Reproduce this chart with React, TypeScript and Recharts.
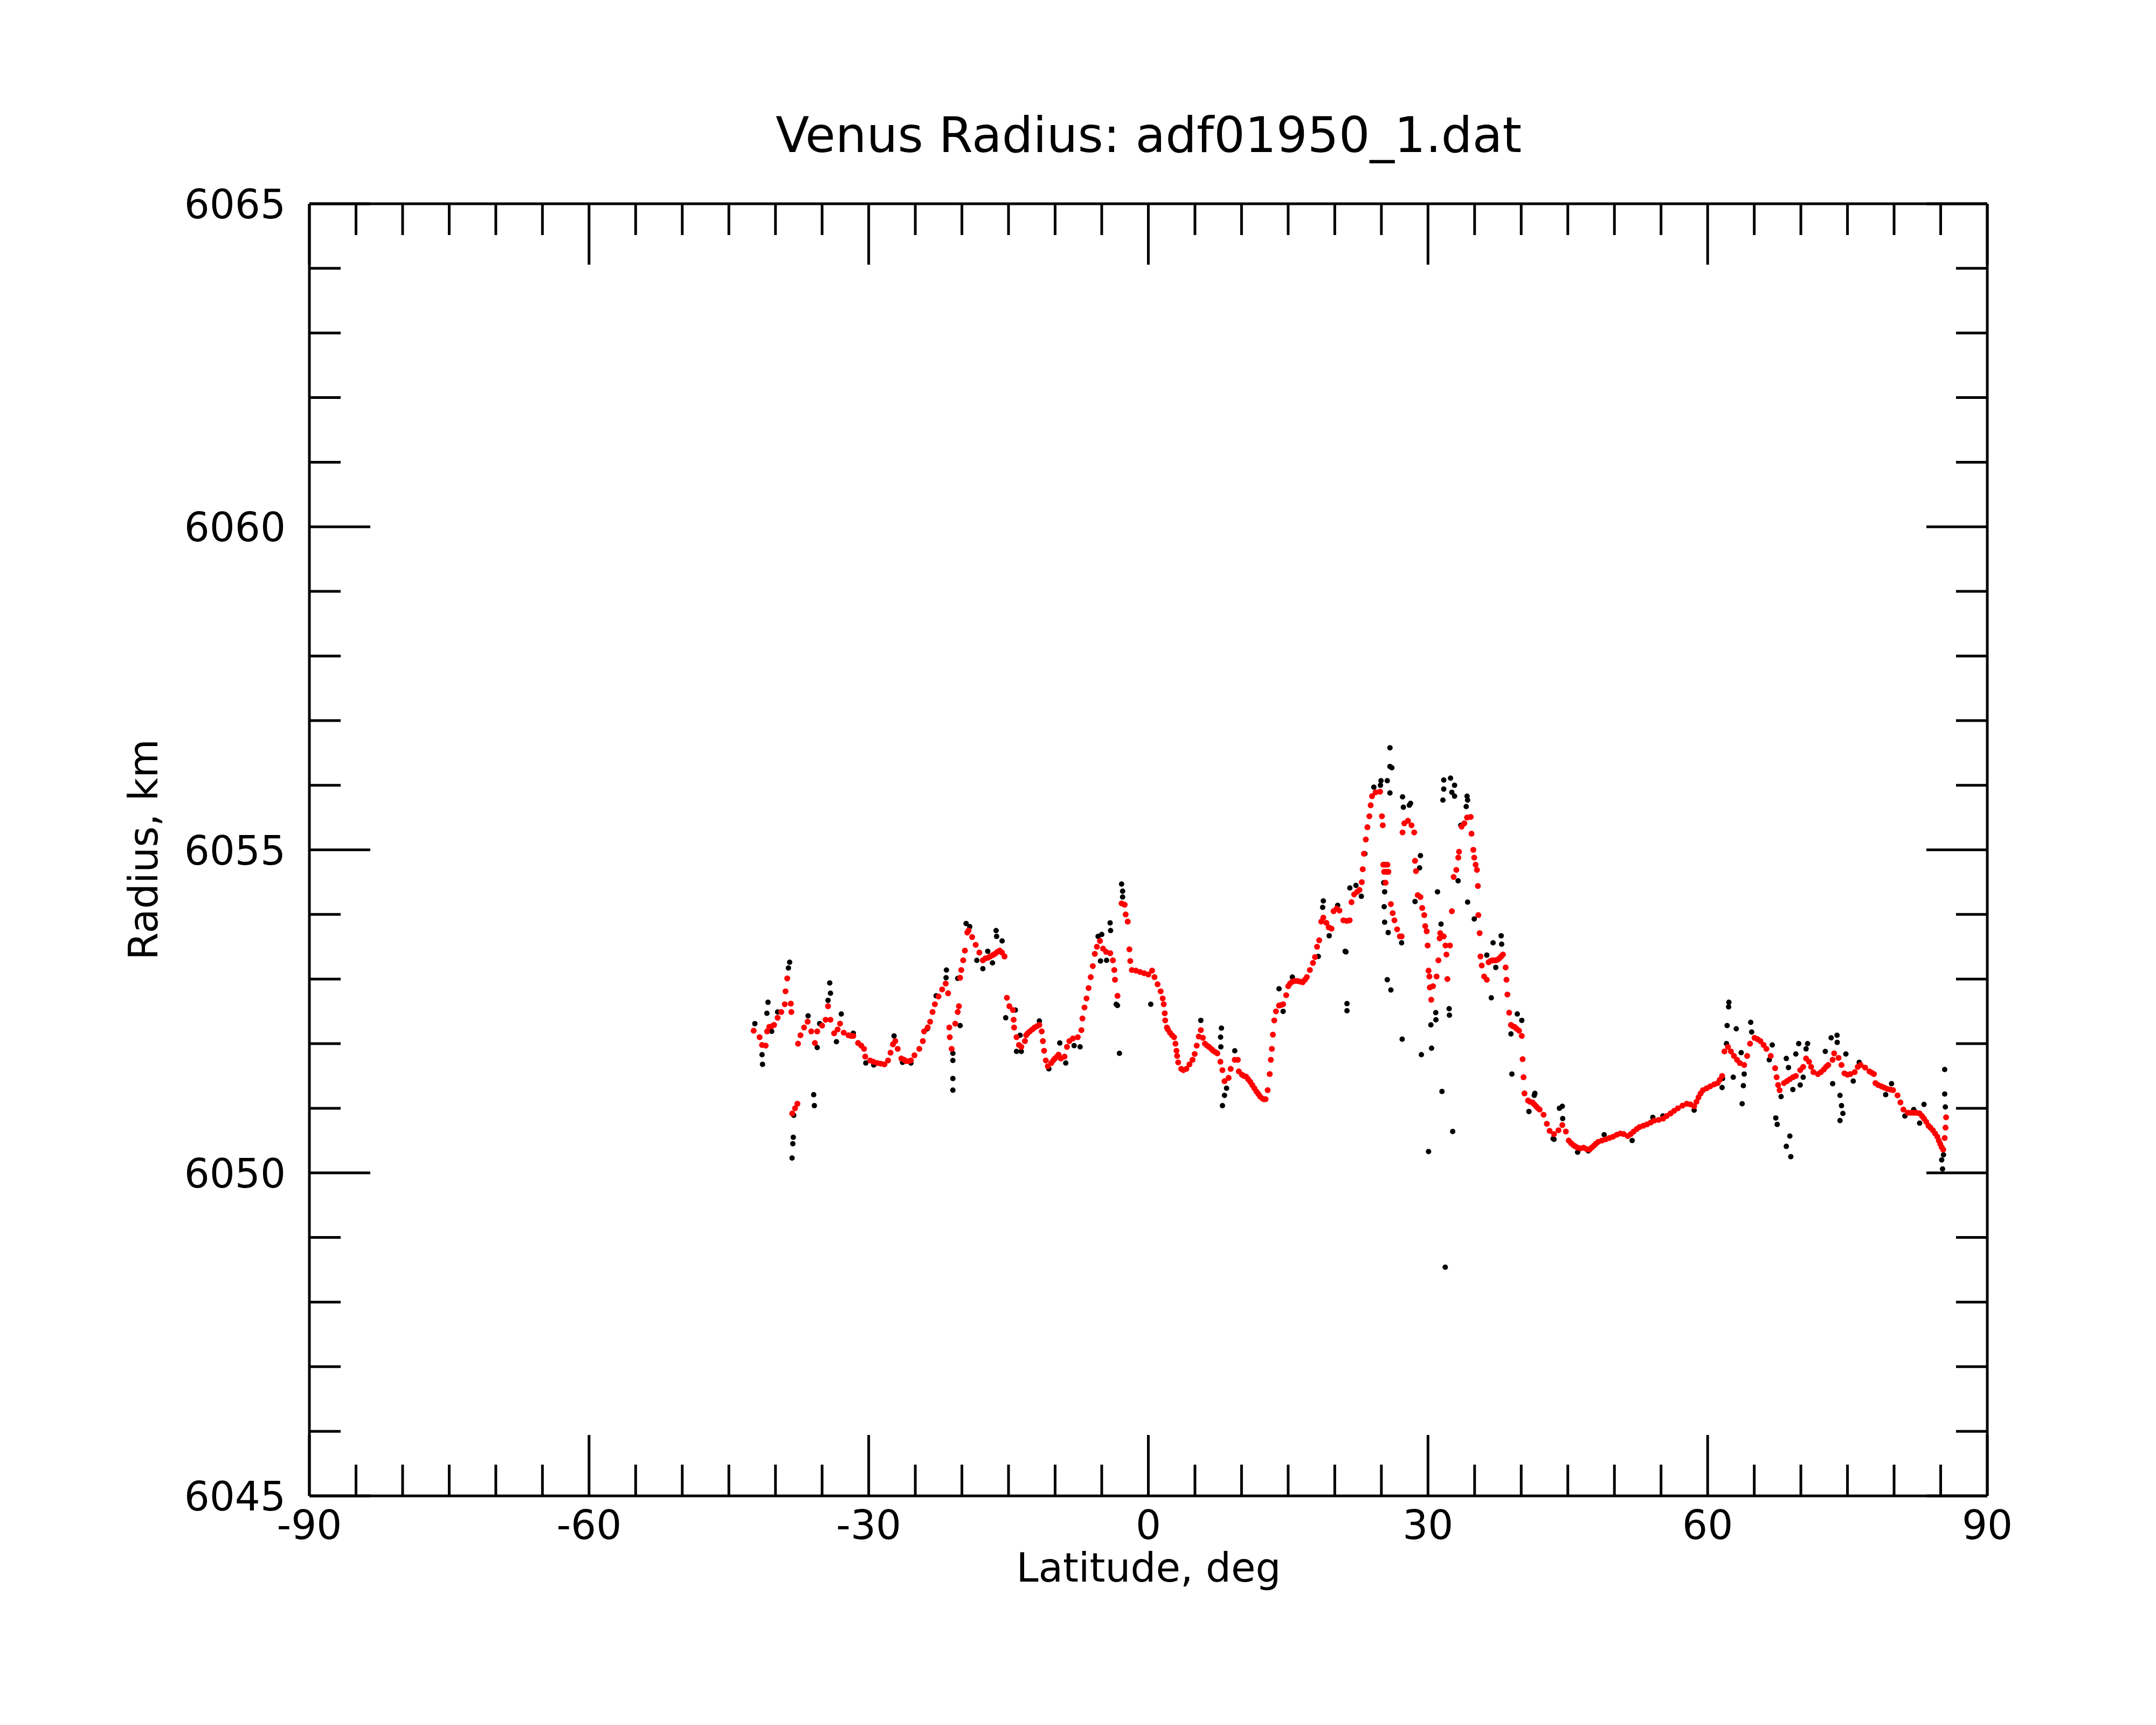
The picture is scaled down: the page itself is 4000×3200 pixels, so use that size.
import React from 'react';
import { ScatterChart, Scatter, XAxis, YAxis } from 'recharts';

// latitude (deg), radius (km)
const redSouth: [number, number][] = [
  [-42.34, 6052.2], [-41.7, 6052.1], [-41.44, 6051.98], [-41.05, 6051.97], [-40.9, 6052.19], [-40.67, 6052.26],
  [-40.4, 6052.27], [-40.15, 6052.29], [-39.77, 6052.4], [-39.38, 6052.49], [-39.0, 6052.61], [-38.92, 6052.81],
  [-38.74, 6053.01], [-38.35, 6052.62], [-38.3, 6052.49], [-38.2, 6050.92], [-37.9, 6051.0], [-37.65, 6051.07],
  [-37.58, 6052.0], [-37.32, 6052.13], [-36.93, 6052.25], [-36.55, 6052.34], [-36.16, 6052.19], [-35.77, 6052.01],
  [-35.52, 6052.19], [-35.0, 6052.28], [-34.62, 6052.37], [-34.36, 6052.58], [-34.1, 6052.37], [-33.71, 6052.16],
  [-33.33, 6052.22], [-33.07, 6052.31], [-32.68, 6052.17], [-32.17, 6052.13], [-31.9, 6052.12], [-31.65, 6052.12],
  [-31.14, 6052.01], [-30.8, 6051.97], [-30.5, 6051.92], [-30.37, 6051.8], [-29.85, 6051.74], [-29.5, 6051.72],
  [-29.08, 6051.7], [-28.7, 6051.69], [-28.31, 6051.68], [-27.92, 6051.74], [-27.66, 6051.86], [-27.4, 6051.99],
  [-27.15, 6052.04], [-26.89, 6051.92], [-26.5, 6051.77], [-26.2, 6051.75], [-25.99, 6051.73], [-25.7, 6051.73],
  [-25.47, 6051.74], [-25.09, 6051.82], [-24.57, 6051.92], [-24.19, 6052.04], [-24.06, 6052.19], [-23.67, 6052.25],
  [-23.41, 6052.34], [-23.15, 6052.49], [-22.9, 6052.61], [-22.51, 6052.73], [-22.12, 6052.84], [-21.74, 6052.93],
  [-21.48, 6052.78], [-21.35, 6052.25], [-21.3, 6052.1], [-21.1, 6051.92], [-20.71, 6052.31], [-20.45, 6052.49],
  [-20.32, 6052.58], [-20.19, 6053.02], [-20.07, 6053.14], [-19.86, 6053.29], [-19.68, 6053.44], [-19.42, 6053.72],
  [-19.29, 6053.75], [-18.9, 6053.65], [-18.52, 6053.53], [-18.13, 6053.41], [-17.75, 6053.29], [-17.49, 6053.32],
  [-17.2, 6053.33], [-16.97, 6053.35], [-16.7, 6053.37], [-16.46, 6053.39], [-16.2, 6053.42], [-15.94, 6053.44],
  [-15.7, 6053.41], [-15.43, 6053.35], [-15.17, 6052.71], [-14.91, 6052.58], [-14.53, 6052.52], [-14.45, 6052.37],
  [-14.4, 6052.25], [-14.14, 6052.1], [-13.88, 6051.98], [-13.63, 6051.95], [-13.24, 6052.04], [-13.11, 6052.13],
  [-12.95, 6052.16], [-12.72, 6052.19], [-12.45, 6052.22], [-12.2, 6052.25], [-11.95, 6052.27], [-11.69, 6052.29],
  [-11.44, 6052.19], [-11.31, 6052.04], [-11.18, 6051.89], [-11.0, 6051.74], [-10.79, 6051.65], [-10.41, 6051.7],
  [-10.2, 6051.74], [-10.02, 6051.77], [-9.8, 6051.8], [-9.63, 6051.83], [-9.38, 6051.77], [-8.99, 6051.8],
  [-8.73, 6051.95], [-8.47, 6052.04], [-8.09, 6052.08], [-7.57, 6052.1],
];

const redEquator: [number, number][] = [
  [-7.18, 6052.21], [-7.07, 6052.39], [-6.85, 6052.56], [-6.63, 6052.7], [-6.41, 6052.86], [-6.18, 6053.03],
  [-5.96, 6053.2], [-5.74, 6053.39], [-5.52, 6053.5], [-5.19, 6053.59], [-4.86, 6053.47], [-4.53, 6053.42],
  [-4.09, 6053.4], [-3.8, 6053.29], [-3.65, 6053.14], [-3.58, 6052.99], [-3.31, 6052.74], [-2.87, 6054.17],
  [-2.54, 6054.15], [-2.43, 6054.0], [-2.21, 6053.89], [-2.03, 6053.46], [-1.94, 6053.28], [-1.77, 6053.14],
  [-1.33, 6053.13], [-0.89, 6053.11], [-0.44, 6053.09], [0, 6053.07], [0.4, 6053.13], [0.66, 6053.03],
  [0.99, 6052.92], [1.32, 6052.81], [1.54, 6052.7], [1.65, 6052.61], [1.76, 6052.47], [1.81, 6052.36],
  [1.99, 6052.25], [2.1, 6052.22], [2.32, 6052.17], [2.55, 6052.13], [2.76, 6052.1], [2.91, 6052.0],
  [3.02, 6051.89], [3.09, 6051.81], [3.2, 6051.71], [3.53, 6051.61], [3.75, 6051.59], [4.08, 6051.61],
  [4.41, 6051.68], [4.74, 6051.75], [4.97, 6051.84], [5.19, 6051.97], [5.41, 6052.11], [5.63, 6052.21],
  [5.85, 6052.09], [6.07, 6052.0], [6.3, 6051.97], [6.51, 6051.95], [6.75, 6051.92], [6.95, 6051.89],
  [7.2, 6051.87], [7.4, 6051.85], [7.73, 6051.72], [7.95, 6051.59], [8.17, 6051.42], [8.61, 6051.47],
  [8.83, 6051.61], [9.27, 6051.75], [9.6, 6051.75], [9.71, 6051.57], [10.04, 6051.52], [10.25, 6051.5],
  [10.49, 6051.49], [10.7, 6051.45], [10.93, 6051.41], [11.15, 6051.36], [11.37, 6051.31], [11.6, 6051.26],
  [11.81, 6051.22], [12.0, 6051.18], [12.25, 6051.15], [12.4, 6051.14], [12.58, 6051.14], [12.8, 6051.28],
  [13.02, 6051.53], [13.14, 6051.75], [13.25, 6051.92], [13.36, 6052.14], [13.51, 6052.36], [13.69, 6052.5],
  [14.02, 6052.59], [14.25, 6052.6], [14.46, 6052.61], [14.79, 6052.75], [15.01, 6052.89], [15.2, 6052.93],
  [15.45, 6052.96], [15.7, 6052.97], [16.0, 6052.97], [16.3, 6052.96], [16.56, 6052.95], [16.8, 6052.99],
  [17.0, 6053.03], [17.33, 6053.14], [17.66, 6053.25], [17.88, 6053.34], [18.1, 6053.5],
];

const redPeaks: [number, number][] = [
  [18.33, 6053.6], [18.55, 6053.89], [18.77, 6053.95], [19.1, 6053.87], [19.35, 6053.8], [19.65, 6053.78],
  [19.87, 6054.05], [20.2, 6054.09], [20.5, 6054.06], [20.92, 6053.91], [21.3, 6053.9], [21.6, 6053.91],
  [21.79, 6054.19], [22.08, 6054.31], [22.4, 6054.35], [22.65, 6054.38], [22.9, 6054.5], [23.0, 6054.7],
  [23.13, 6054.94], [23.33, 6055.16], [23.5, 6055.35], [23.71, 6055.52], [23.85, 6055.69], [24.0, 6055.83],
  [24.38, 6055.89], [24.86, 6055.9], [25.06, 6055.52], [25.15, 6055.38], [25.2, 6054.77], [25.3, 6054.66],
  [25.4, 6054.77], [25.45, 6054.49], [25.55, 6054.66], [25.65, 6054.77], [25.75, 6054.66], [26.02, 6054.16],
  [26.21, 6054.02], [26.4, 6053.91], [26.69, 6053.77], [26.98, 6053.66], [27.17, 6053.66], [27.27, 6055.27],
  [27.46, 6055.41], [27.85, 6055.45], [28.23, 6055.38], [28.52, 6055.27], [28.61, 6054.83], [28.71, 6054.67],
  [28.9, 6054.3], [29.19, 6054.27], [29.38, 6054.1], [29.6, 6053.99], [29.7, 6053.82], [29.86, 6053.74],
  [29.96, 6053.52], [30.06, 6053.13], [30.15, 6053.04], [30.2, 6052.87], [30.35, 6052.68], [30.54, 6052.89],
  [30.92, 6053.04], [31.12, 6053.29], [31.25, 6053.63], [31.31, 6053.71], [31.69, 6053.66], [31.88, 6053.52],
  [31.98, 6053.38], [32.08, 6053.0], [32.36, 6053.52], [32.56, 6054.05], [32.75, 6054.58], [33.04, 6054.69],
  [33.25, 6054.88], [33.33, 6054.97], [33.61, 6055.36], [33.9, 6055.41], [34.19, 6055.5], [34.58, 6055.51],
  [34.67, 6055.25], [34.86, 6055.0], [34.96, 6054.88], [35.11, 6054.77], [35.25, 6054.69], [35.35, 6054.44],
  [35.4, 6053.99], [35.54, 6053.71], [35.63, 6053.35], [35.77, 6053.21], [36.02, 6053.04], [36.31, 6052.99],
  [36.5, 6053.26], [36.7, 6053.28], [36.88, 6053.29], [37.1, 6053.29], [37.27, 6053.29], [37.45, 6053.3],
  [37.65, 6053.32], [37.85, 6053.35], [38.04, 6053.38], [38.33, 6053.18], [38.42, 6052.99], [38.52, 6052.76],
  [38.71, 6052.48], [38.9, 6052.29], [39.1, 6052.27], [39.29, 6052.26], [39.5, 6052.23], [39.77, 6052.2],
  [40.06, 6052.12], [40.15, 6051.76], [40.25, 6051.48], [40.35, 6051.23], [40.73, 6051.12], [40.95, 6051.1],
  [41.21, 6051.09], [41.4, 6051.06], [41.6, 6051.03], [41.8, 6051.0], [41.98, 6050.98],
];

const redNorth: [number, number][] = [
  [42.4, 6050.9], [42.75, 6050.76], [43.05, 6050.65], [43.52, 6050.6], [44.0, 6050.66], [44.41, 6050.74],
  [44.79, 6050.64], [45.1, 6050.5], [45.35, 6050.46], [45.58, 6050.43], [45.8, 6050.41], [46.05, 6050.39],
  [46.37, 6050.38], [46.69, 6050.39], [47.0, 6050.37], [47.32, 6050.36], [47.55, 6050.39], [47.79, 6050.42],
  [48.0, 6050.45], [48.27, 6050.48], [48.65, 6050.5], [49.06, 6050.52], [49.45, 6050.54], [49.85, 6050.56],
  [50.25, 6050.59], [50.64, 6050.61], [51.0, 6050.6], [51.43, 6050.57], [51.75, 6050.6], [52.06, 6050.64],
  [52.4, 6050.68], [52.7, 6050.71], [53.1, 6050.73], [53.49, 6050.75], [53.9, 6050.78], [54.28, 6050.81],
  [54.75, 6050.82], [55.23, 6050.84], [55.6, 6050.88], [56.02, 6050.92], [56.4, 6050.96], [56.81, 6051.0],
  [57.3, 6051.04], [57.76, 6051.07], [58.15, 6051.06], [58.55, 6051.03], [58.8, 6051.1], [59.02, 6051.17],
  [59.25, 6051.23], [59.5, 6051.28], [59.9, 6051.31], [60.29, 6051.34], [60.7, 6051.37], [61.08, 6051.39],
  [61.3, 6051.44], [61.55, 6051.5], [61.8, 6051.88], [62.18, 6051.95], [62.5, 6051.88], [62.82, 6051.81],
  [63.15, 6051.75], [63.45, 6051.7], [63.92, 6051.67], [64.24, 6051.81], [64.55, 6052.0], [65.03, 6052.09],
  [65.35, 6052.07], [65.66, 6052.04], [66.0, 6051.98], [66.3, 6051.92], [66.77, 6051.81], [67.24, 6051.62],
  [67.4, 6051.48], [67.56, 6051.36], [67.72, 6051.28], [68.19, 6051.39], [68.5, 6051.42], [68.82, 6051.45],
  [69.15, 6051.48], [69.46, 6051.5], [69.93, 6051.59], [70.25, 6051.64], [70.56, 6051.77], [70.88, 6051.72],
  [71.1, 6051.64], [71.35, 6051.56], [71.83, 6051.53], [72.15, 6051.56], [72.46, 6051.6], [72.7, 6051.64],
  [72.94, 6051.67], [73.41, 6051.75], [73.57, 6051.85], [74.04, 6051.78], [74.36, 6051.67], [74.67, 6051.54],
  [75.0, 6051.52], [75.31, 6051.53], [75.78, 6051.56], [76.1, 6051.64], [76.41, 6051.67], [76.89, 6051.63],
  [77.36, 6051.57], [77.6, 6051.55], [77.84, 6051.53], [78.0, 6051.39], [78.3, 6051.36], [78.63, 6051.34],
  [78.95, 6051.32], [79.26, 6051.3], [79.6, 6051.29], [79.89, 6051.28], [80.37, 6051.2], [80.68, 6051.09],
  [81.0, 6050.98], [81.47, 6050.93], [81.8, 6050.93], [82.11, 6050.93], [82.4, 6050.93], [82.74, 6050.92],
  [83.0, 6050.88], [83.21, 6050.84], [83.45, 6050.79], [83.69, 6050.73], [83.9, 6050.7], [84.16, 6050.66],
  [84.4, 6050.61], [84.64, 6050.56], [84.8, 6050.5], [84.95, 6050.45], [85.1, 6050.4], [85.27, 6050.36],
  [85.43, 6050.54], [85.52, 6050.7], [85.58, 6050.86],
];

const blackSouth: [number, number][] = [
  [-42.21, 6052.31], [-41.44, 6051.83], [-41.39, 6051.68], [-40.92, 6052.47], [-40.8, 6052.64], [-40.41, 6052.19],
  [-39.77, 6052.49], [-38.61, 6053.17], [-38.48, 6053.26], [-38.22, 6050.23], [-38.14, 6050.45], [-38.09, 6050.55],
  [-38.04, 6050.89], [-36.5, 6052.43], [-35.9, 6051.21], [-35.83, 6051.04], [-35.52, 6051.94], [-35.26, 6052.31],
  [-34.36, 6052.67], [-34.18, 6052.94], [-34.1, 6052.78], [-33.46, 6052.03], [-32.94, 6052.46], [-31.65, 6052.16],
  [-30.31, 6051.7], [-29.46, 6051.67], [-27.28, 6052.12], [-26.37, 6051.71], [-25.47, 6051.7], [-23.72, 6052.23],
  [-22.77, 6052.74], [-21.7, 6053.02], [-21.66, 6053.14], [-20.97, 6051.85], [-20.97, 6051.74], [-20.97, 6051.46],
  [-20.97, 6051.28], [-20.45, 6053.01], [-20.19, 6052.28], [-19.55, 6053.86], [-19.16, 6053.81], [-18.4, 6053.29],
  [-17.75, 6053.16], [-17.23, 6053.43], [-16.72, 6053.25], [-16.33, 6053.75], [-16.28, 6053.66], [-15.69, 6053.59],
  [-15.3, 6052.4], [-14.27, 6052.52], [-14.14, 6051.88], [-13.76, 6052.13], [-13.63, 6051.88], [-11.69, 6052.35],
  [-10.67, 6051.61], [-9.5, 6052.01], [-8.86, 6051.7], [-7.96, 6051.97], [-7.32, 6051.95],
];

const blackEquator: [number, number][] = [
  [-5.39, 6053.66], [-5.13, 6053.28], [-5.0, 6053.69], [-4.48, 6053.29], [-4.1, 6053.87], [-4.05, 6053.75],
  [-3.45, 6052.61], [-3.31, 6052.59], [-3.1, 6051.85], [-2.87, 6054.47], [-2.76, 6054.36], [-2.76, 6054.27],
  [0.26, 6052.61], [5.63, 6052.36], [7.75, 6052.1], [7.78, 6051.95], [7.84, 6052.24], [7.95, 6051.04],
  [8.17, 6051.2], [8.39, 6051.31], [9.27, 6051.89], [14.02, 6052.85], [14.46, 6052.5], [15.45, 6053.03],
];

const blackPeaks: [number, number][] = [
  [18.23, 6053.35], [18.7, 6054.11], [18.77, 6054.21], [19.4, 6053.67], [20.31, 6054.14], [21.11, 6053.43],
  [21.2, 6053.42], [21.31, 6052.62], [21.31, 6052.51], [21.62, 6054.41], [22.27, 6054.45], [22.85, 6054.28],
  [23.23, 6054.94], [24.19, 6055.97], [24.96, 6056.07], [24.9, 6056.0], [25.25, 6054.49], [25.35, 6054.35],
  [25.3, 6054.12], [25.35, 6053.88], [25.63, 6056.07], [25.73, 6053.72], [25.63, 6052.99], [25.92, 6056.58],
  [25.92, 6056.29], [26.12, 6056.27], [25.92, 6055.88], [26.02, 6052.83], [27.17, 6053.56], [27.23, 6052.07],
  [27.27, 6055.82], [27.36, 6055.66], [28.0, 6055.69], [28.13, 6055.72], [28.61, 6054.2], [29.1, 6054.72],
  [29.19, 6054.91], [29.29, 6051.83], [30.06, 6050.33], [30.31, 6052.29], [30.38, 6051.93], [30.83, 6052.48],
  [30.85, 6052.37], [31.02, 6054.35], [31.4, 6053.85], [31.5, 6051.26], [31.6, 6055.77], [31.69, 6056.08],
  [31.69, 6055.94], [31.85, 6048.54], [32.27, 6052.54], [32.3, 6052.44], [32.42, 6056.11], [32.56, 6055.89],
  [32.65, 6050.64], [32.85, 6056.0], [32.85, 6055.83], [33.23, 6054.52], [33.52, 6055.38], [34.1, 6055.67],
  [34.19, 6055.83], [34.25, 6055.77], [34.25, 6054.19], [34.96, 6053.93], [36.31, 6053.37], [36.79, 6052.71],
  [36.98, 6053.56], [37.27, 6053.18], [37.85, 6053.67], [37.9, 6053.54], [38.9, 6052.15], [39.0, 6051.53],
  [39.58, 6052.46], [40.06, 6052.36], [40.83, 6050.95], [41.4, 6051.2],
];

const blackNorth: [number, number][] = [
  [41.47, 6051.23], [43.42, 6050.53], [43.52, 6050.52], [44.1, 6051.0], [44.41, 6051.03], [44.45, 6050.84],
  [46.05, 6050.32], [47.2, 6050.34], [48.9, 6050.59], [51.9, 6050.5], [54.12, 6050.86], [55.2, 6050.88],
  [58.55, 6050.97], [61.55, 6051.32], [61.6, 6051.46], [62.02, 6052.0], [62.09, 6052.28], [62.25, 6052.57],
  [62.28, 6052.64], [62.75, 6051.48], [63.07, 6052.23], [63.6, 6051.86], [63.7, 6051.07], [63.83, 6051.35],
  [63.92, 6051.53], [64.62, 6052.33], [64.72, 6052.18], [66.61, 6051.75], [66.93, 6051.98], [67.31, 6050.85],
  [67.46, 6050.75], [67.88, 6051.18], [68.44, 6051.77], [68.44, 6050.41], [68.67, 6051.63], [68.82, 6050.57],
  [68.92, 6050.25], [69.14, 6051.29], [69.46, 6051.84], [69.77, 6052.0], [69.93, 6051.36], [70.25, 6051.48],
  [70.56, 6051.92], [70.72, 6052.0], [72.62, 6051.88], [73.25, 6052.09], [73.41, 6051.38], [73.88, 6052.13],
  [73.9, 6052.02], [74.2, 6051.2], [74.2, 6050.81], [74.36, 6051.04], [74.51, 6050.92], [74.83, 6051.84],
  [75.62, 6051.42], [76.26, 6051.71], [79.1, 6051.21], [79.73, 6051.38], [81.16, 6050.88], [82.11, 6050.98],
  [82.74, 6050.77], [83.21, 6051.06], [85.11, 6050.2], [85.2, 6050.06], [85.3, 6050.28], [85.43, 6051.6],
  [85.43, 6051.22], [85.5, 6051.02],
];

const latTicks = [-90, -85, -80, -75, -70, -65, -60, -55, -50, -45, -40, -35, -30, -25, -20, -15, -10, -5, 0,
  5, 10, 15, 20, 25, 30, 35, 40, 45, 50, 55, 60, 65, 70, 75, 80, 85, 90];
const radiusTicks = [6045, 6046, 6047, 6048, 6049, 6050, 6051, 6052, 6053, 6054, 6055, 6056, 6057, 6058, 6059,
  6060, 6061, 6062, 6063, 6064, 6065];

const FONT = 'DejaVu Sans';
const TICK_FONT = 74;
const MAJOR = 113;
const MINOR = 58;
const LINE_W = 5;

const toPoints = (rows: [number, number][]) => rows.map(([lat, radius]) => ({ lat, radius }));
const redData = toPoints([...redSouth, ...redEquator, ...redPeaks, ...redNorth]);
const blackData = toPoints([...blackSouth, ...blackEquator, ...blackPeaks, ...blackNorth]);

const isMajorLat = (v: number) => v % 30 === 0;
const isMajorRadius = (v: number) => (v - 6045) % 5 === 0;

const BottomTick = (props: any) => {
  const { x, y, payload } = props;
  const major = isMajorLat(payload.value);
  return (
    <g>
      <line x1={x} x2={x} y1={y} y2={y - (major ? MAJOR : MINOR)} stroke="#000" strokeWidth={LINE_W} />
      {major && (
        <text x={x} y={y + 80} textAnchor="middle" fontSize={TICK_FONT} fontFamily={FONT} fill="#000">
          {payload.value}
        </text>
      )}
    </g>
  );
};

const TopTick = (props: any) => {
  const { x, y, payload } = props;
  const major = isMajorLat(payload.value);
  return <line x1={x} x2={x} y1={y} y2={y + (major ? MAJOR : MINOR)} stroke="#000" strokeWidth={LINE_W} />;
};

const LeftTick = (props: any) => {
  const { x, y, payload } = props;
  const major = isMajorRadius(payload.value);
  return (
    <g>
      <line x1={x} x2={x + (major ? MAJOR : MINOR)} y1={y} y2={y} stroke="#000" strokeWidth={LINE_W} />
      {major && (
        <text x={x - 44} y={y + 27} textAnchor="end" fontSize={TICK_FONT} fontFamily={FONT} fill="#000">
          {payload.value}
        </text>
      )}
    </g>
  );
};

const RightTick = (props: any) => {
  const { x, y, payload } = props;
  const major = isMajorRadius(payload.value);
  return <line x1={x} x2={x - (major ? MAJOR : MINOR)} y1={y} y2={y} stroke="#000" strokeWidth={LINE_W} />;
};

const dot = (color: string, r: number) => (p: any) => <circle cx={p.cx} cy={p.cy} r={r} fill={color} />;

const axisLine = { stroke: '#000', strokeWidth: LINE_W };

export default function App() {
  return (
    <div style={{ position: 'absolute', left: 0, top: 0, width: 4000, height: 3200, background: '#fff' }}>
      <ScatterChart width={4000} height={3200} margin={{ top: 368, right: 303, bottom: 225, left: 374 }}>
        <XAxis
          xAxisId="bottom" orientation="bottom" type="number" dataKey="lat" domain={[-90, 90]} allowDataOverflow
          ticks={latTicks} interval={0} height={200} tickSize={0} tickMargin={0} tickLine={false}
          axisLine={axisLine} tick={<BottomTick />}
        />
        <XAxis
          xAxisId="top" orientation="top" type="number" dataKey="lat" domain={[-90, 90]} allowDataOverflow
          ticks={latTicks} interval={0} height={10} tickSize={0} tickMargin={0} tickLine={false}
          axisLine={axisLine} tick={<TopTick />}
        />
        <YAxis
          yAxisId="left" orientation="left" type="number" dataKey="radius" domain={[6045, 6065]} allowDataOverflow
          ticks={radiusTicks} interval={0} width={200} tickSize={0} tickMargin={0} tickLine={false}
          axisLine={axisLine} tick={<LeftTick />}
        />
        <YAxis
          yAxisId="right" orientation="right" type="number" dataKey="radius" domain={[6045, 6065]} allowDataOverflow
          ticks={radiusTicks} interval={0} width={10} tickSize={0} tickMargin={0} tickLine={false}
          axisLine={axisLine} tick={<RightTick />}
        />
        <Scatter data={blackData} xAxisId="bottom" yAxisId="left" shape={dot('#000000', 5)} isAnimationActive={false} />
        <Scatter data={redData} xAxisId="top" yAxisId="right" shape={dot('#ff0000', 5.5)} isAnimationActive={false} />
      </ScatterChart>
      <svg width={4000} height={3200} style={{ position: 'absolute', left: 0, top: 0, pointerEvents: 'none' }}>
        <text x={2131} y={282} textAnchor="middle" fontSize={91} fontFamily={FONT} fill="#000">
          Venus Radius: adf01950_1.dat
        </text>
        <text x={2131} y={2934} textAnchor="middle" fontSize={TICK_FONT} fontFamily={FONT} fill="#000">
          Latitude, deg
        </text>
        <text x={292} y={1576} textAnchor="middle" fontSize={TICK_FONT} fontFamily={FONT} fill="#000"
          transform="rotate(-90 292 1576)">
          Radius, km
        </text>
      </svg>
    </div>
  );
}
